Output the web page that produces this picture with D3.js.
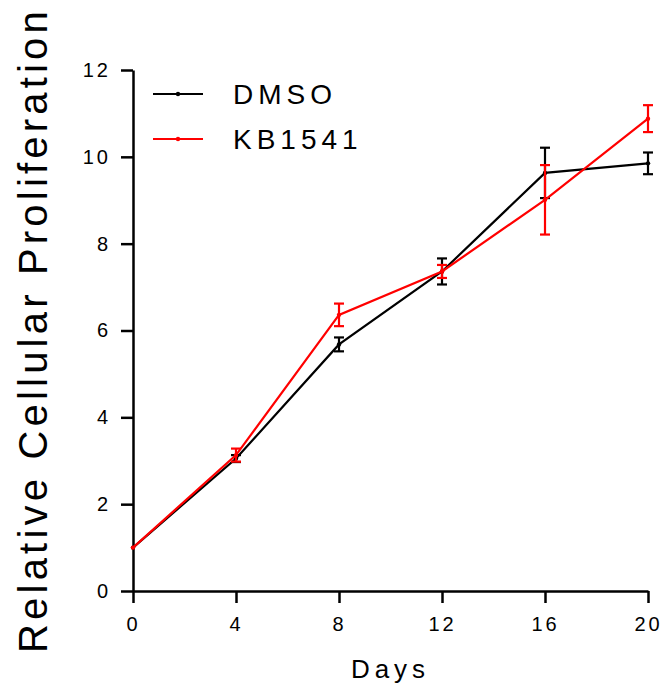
<!DOCTYPE html>
<html>
<head>
<meta charset="utf-8">
<script src="https://cdn.jsdelivr.net/npm/d3@7"></script>
<style>
  body { margin: 0; background: #fff; }
  text { font-family: "Liberation Sans", Arial, sans-serif; }
</style>
</head>
<body>
<div id="chart"></div>
<script>
const days = [0, 4, 8, 12, 16, 20]
const dmso = [1, 3.05, 5.68, 7.36, 9.63, 9.85]
const dmsoErr = [0, 0.08, 0.16, 0.3, 0.58, 0.25]
const kb1541 = [1, 3.13, 6.36, 7.36, 9.01, 10.88]
const kb1541Err = [0, 0.15, 0.26, 0.15, 0.8, 0.31]
const xTicks = [0, 4, 8, 12, 16, 20]
const yTicks = [0, 2, 4, 6, 8, 10, 12]

const width = 665
const height = 693
const margin = { top: 70, left: 133, right: 17, bottom: 102 }

const svg = d3.select('#chart')
  .append('svg')
  .attr('width', width)
  .attr('height', height)

const x = d3.scaleLinear().domain([0, 20]).range([margin.left, width - margin.right])
const y = d3.scaleLinear().domain([0, 12]).range([height - margin.bottom, margin.top])

// axes
const xAxis = svg.append('g')
  .attr('transform', `translate(0,${y(0)})`)
  .call(d3.axisBottom(x).tickValues(xTicks).tickSize(12).tickPadding(8).tickSizeOuter(0))
const yAxis = svg.append('g')
  .attr('transform', `translate(${x(0)},0)`)
  .call(d3.axisLeft(y).tickValues(yTicks).tickSize(12).tickPadding(10).tickSizeOuter(0))

for (const ax of [xAxis, yAxis]) {
  ax.select('.domain').attr('stroke-width', 2.5)
  ax.selectAll('.tick line').attr('stroke-width', 2.5)
  ax.selectAll('.tick text')
    .style('font-size', '20px')
    .style('letter-spacing', '3px')
    .attr('fill', '#000')
}
xAxis.selectAll('.tick text').attr('dy', '1em')

// axis titles
svg.append('text')
  .attr('x', (x(0) + x(20)) / 2)
  .attr('y', 678)
  .attr('text-anchor', 'middle')
  .style('font-size', '26px')
  .style('letter-spacing', '5px')
  .text('Days')

svg.append('text')
  .attr('transform', 'translate(47,330) rotate(-90)')
  .attr('text-anchor', 'middle')
  .style('font-size', '40px')
  .style('letter-spacing', '4.2px')
  .text('Relative Cellular Proliferation')

const series = [
  { name: 'DMSO', color: '#000', values: dmso, err: dmsoErr },
  { name: 'KB1541', color: '#f00', values: kb1541, err: kb1541Err }
]

const line = d3.line().x(d => x(d.day)).y(d => y(d.v))

series.forEach(s => {
  const pts = days.map((d, i) => ({ day: d, v: s.values[i], e: s.err[i] }))
  const g = svg.append('g')

  g.append('path')
    .datum(pts)
    .attr('d', line)
    .attr('fill', 'none')
    .attr('stroke', s.color)
    .attr('stroke-width', 2.2)

  const eb = g.selectAll('.eb')
    .data(pts.filter(p => p.e > 0))
    .enter()
    .append('g')
  eb.append('line')
    .attr('x1', d => x(d.day)).attr('x2', d => x(d.day))
    .attr('y1', d => y(d.v - d.e)).attr('y2', d => y(d.v + d.e))
    .attr('stroke', s.color).attr('stroke-width', 2.2)
  eb.append('line')
    .attr('x1', d => x(d.day) - 5).attr('x2', d => x(d.day) + 5)
    .attr('y1', d => y(d.v + d.e)).attr('y2', d => y(d.v + d.e))
    .attr('stroke', s.color).attr('stroke-width', 2.2)
  eb.append('line')
    .attr('x1', d => x(d.day) - 5).attr('x2', d => x(d.day) + 5)
    .attr('y1', d => y(d.v - d.e)).attr('y2', d => y(d.v - d.e))
    .attr('stroke', s.color).attr('stroke-width', 2.2)

  g.selectAll('circle')
    .data(pts)
    .enter()
    .append('circle')
    .attr('cx', d => x(d.day))
    .attr('cy', d => y(d.v))
    .attr('r', 2.2)
    .attr('fill', s.color)
})

// legend
const legend = svg.append('g')
series.forEach((s, i) => {
  const ly = 94 + i * 45
  legend.append('line')
    .attr('x1', 153).attr('x2', 203)
    .attr('y1', ly).attr('y2', ly)
    .attr('stroke', s.color).attr('stroke-width', 2.2)
  legend.append('circle')
    .attr('cx', 178).attr('cy', ly).attr('r', 2.2).attr('fill', s.color)
  legend.append('text')
    .attr('x', 233).attr('y', ly + 10)
    .style('font-size', '28px')
    .style('letter-spacing', '5px')
    .text(s.name)
})
</script>
</body>
</html>
